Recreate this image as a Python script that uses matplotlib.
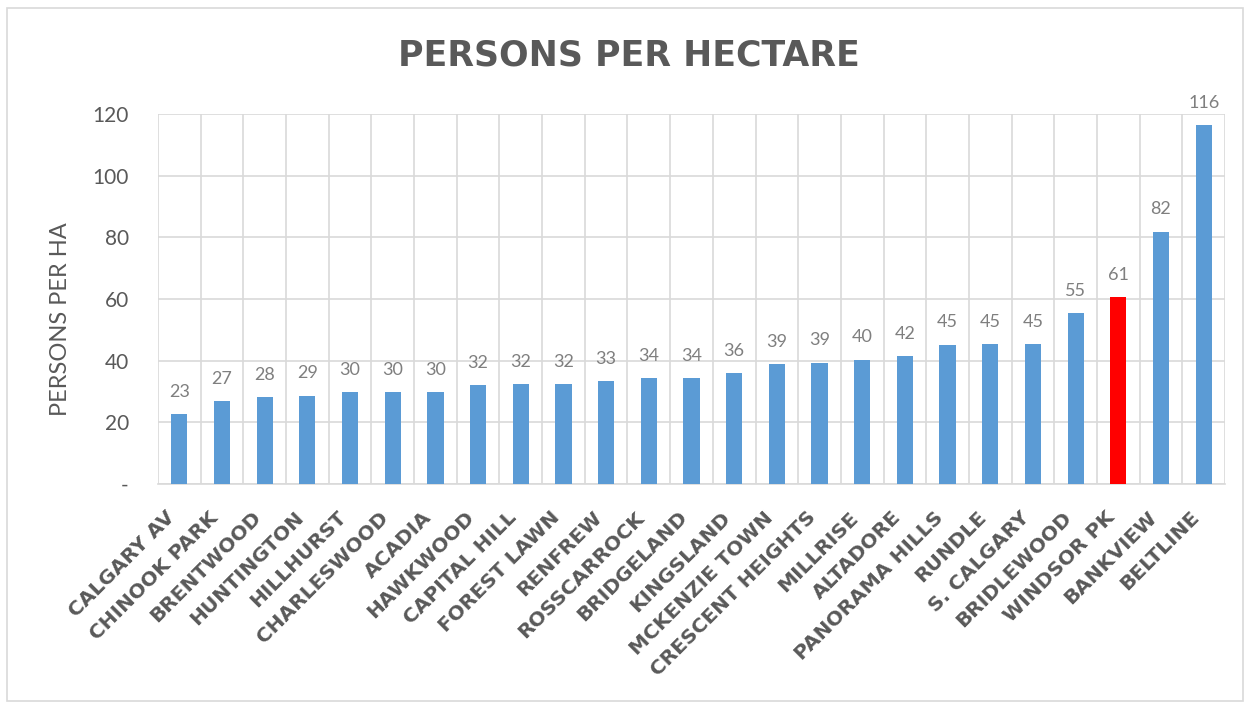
import matplotlib.pyplot as plt
from matplotlib.patches import Rectangle
from matplotlib.transforms import ScaledTranslation

# data
neighbourhoods = ["CALGARY AV", "CHINOOK PARK", "BRENTWOOD", "HUNTINGTON", "HILLHURST",
                  "CHARLESWOOD", "ACADIA", "HAWKWOOD", "CAPITAL HILL", "FOREST LAWN",
                  "RENFREW", "ROSSCARROCK", "BRIDGELAND", "KINGSLAND", "MCKENZIE TOWN",
                  "CRESCENT HEIGHTS", "MILLRISE", "ALTADORE", "PANORAMA HILLS", "RUNDLE",
                  "S. CALGARY", "BRIDLEWOOD", "WINDSOR PK", "BANKVIEW", "BELTLINE"]
persons_per_ha = [22.6, 26.9, 28.1, 28.6, 29.7, 29.7, 29.7, 32.0, 32.3, 32.3,
                  33.4, 34.3, 34.3, 36.0, 38.8, 39.4, 40.3, 41.5, 45.2, 45.4,
                  45.4, 55.3, 60.6, 81.8, 116.4]
highlight = "WINDSOR PK"
yticks = [0, 20, 40, 60, 80, 100, 120]
ytick_labels = ["-", "20", "40", "60", "80", "100", "120"]

blue = "#5B9BD5"
red = "#FF0000"
grid_c = "#D9D9D9"
text_c = "#595959"

fig = plt.figure(figsize=(12.5, 7.05), dpi=100)
# plot area: x 158..1225 px, y 114..484 px
ax = fig.add_axes([158 / 1250, 1 - 484 / 705, 1067 / 1250, 370 / 705])

x = list(range(len(neighbourhoods)))
colors = [red if n == highlight else blue for n in neighbourhoods]
ax.bar(x, persons_per_ha, width=0.38, color=colors, zorder=3)

for xi, v in zip(x, persons_per_ha):
    ax.annotate(f"{v:.0f}", (xi, v), xytext=(0, 12.5), textcoords="offset points",
                ha="center", va="baseline", fontsize=13, color="#7F7F7F", family="Lato")

ax.set_xlim(-0.5, len(neighbourhoods) - 0.5)
ax.set_ylim(0, 120)
ax.set_yticks(yticks)
ax.set_yticklabels(ytick_labels, fontsize=15, color=text_c, family="Lato")

# vertical grid lines between categories
ax.set_xticks([i + 0.5 for i in range(-1, len(neighbourhoods))], minor=True)
ax.grid(True, which="minor", axis="x", color=grid_c, lw=1.2, zorder=0)
ax.grid(True, which="major", axis="y", color=grid_c, lw=1.2, zorder=0)
ax.tick_params(axis="both", which="both", length=0)
ax.tick_params(axis="y", pad=21)

ax.set_xticks(x)
ax.set_xticklabels(neighbourhoods, rotation=45, ha="right", va="center",
                   rotation_mode="anchor", fontsize=14.5, fontweight="bold",
                   color=text_c, family="DejaVu Sans")
ax.tick_params(axis="x", pad=22)
shift = ScaledTranslation(-0.07, 0, fig.dpi_scale_trans)
for lab in ax.get_xticklabels():
    lab.set_transform(lab.get_transform() + shift)

for s in ["top", "right", "left"]:
    ax.spines[s].set_visible(False)
ax.spines["bottom"].set_color(grid_c)
ax.spines["bottom"].set_linewidth(1.2)

ax.set_ylabel("PERSONS PER HA", fontsize=17, color=text_c, family="Lato")
ax.yaxis.set_label_coords(-0.0815, 0.446)

fig.text(0.503, 0.921, "PERSONS PER HECTARE", ha="center", va="center",
         fontsize=25, fontweight="bold", color=text_c, family="DejaVu Sans")

fig.patches.append(Rectangle((7 / 1250, 4 / 705), 1236 / 1250, 693 / 705,
                             transform=fig.transFigure, fill=False,
                             edgecolor=grid_c, lw=1.2))

fig.savefig("out.png", dpi=100)
